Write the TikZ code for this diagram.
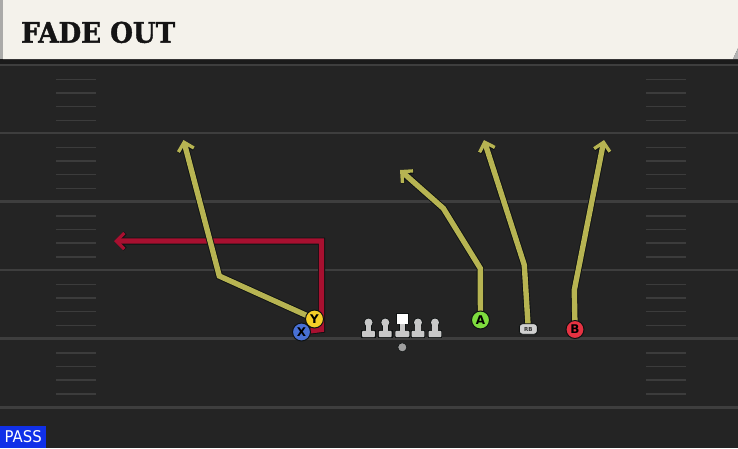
\documentclass[tikz,border=0pt]{standalone}
\usepackage{fontspec}
\usetikzlibrary{arrows.meta}
\newfontfamily\titlefont{DejaVu Serif}[BoldFeatures={FakeBold=1.5}]
\newfontfamily\labelfont{DejaVu Sans}
\definecolor{fieldbg}{RGB}{36,36,36}
\definecolor{majorc}{RGB}{62,62,62}
\definecolor{hashc}{RGB}{60,60,60}
\definecolor{banddark}{RGB}{27,27,27}
\definecolor{cream}{RGB}{244,242,235}
\definecolor{stripc}{RGB}{170,170,168}
\definecolor{routeY}{RGB}{183,180,82}
\definecolor{routeR}{RGB}{168,16,48}
\definecolor{outl}{RGB}{14,18,18}
\definecolor{xblue}{RGB}{72,112,212}
\definecolor{yyellow}{RGB}{246,206,40}
\definecolor{agreen}{RGB}{126,220,62}
\definecolor{bred}{RGB}{230,50,66}
\definecolor{lmgray}{RGB}{200,200,200}
\definecolor{passblue}{RGB}{16,48,232}
\pgfdeclarelayer{field}
\pgfdeclarelayer{routes}
\pgfsetlayers{field,routes,main}
\tikzset{
  majorline/.style={draw=majorc, line width=2.2pt},
  hashline/.style={draw=hashc, line width=1.8pt},
  routetip/.style={-{Straight Barb[length=8pt,width=16pt,line width=0pt 0.62]}},
  routeline/.style={draw=routeY, line width=5.4pt, line join=miter, routetip,
    preaction={draw=outl, line width=7.2pt}},
  redline/.style={draw=routeR, line width=5.2pt, line join=miter, routetip,
    preaction={draw=outl, line width=7pt}},
  player/.style={circle, draw=outl, line width=1pt, minimum size=18pt,
    inner sep=0pt, font=\labelfont\bfseries\fontsize{12}{12}\selectfont, text=black},
  rbshape/.style={rounded corners=3pt, draw=outl, line width=0.9pt, fill=lmgray!85,
    minimum width=18pt, minimum height=10.5pt, inner sep=0pt,
    font=\labelfont\bfseries\fontsize{5.5}{5.5}\selectfont, text=black!80},
  ballshape/.style={circle, fill=gray!75, draw=outl, line width=0.6pt,
    minimum size=9pt, inner sep=0pt},
  lineman/.pic={
    \fill[outl] (-7.3,7.3) rectangle (7.3,15.5);
    \fill[outl] (-3.4,0) rectangle (3.4,8);
    \fill[outl] (0,0) circle (4.8pt);
    \fill[lmgray] (-6.4,8.3) [rounded corners=1pt] rectangle (6.4,14.7);
    \fill[lmgray] (-2.6,0) rectangle (2.6,9);
    \fill[lmgray] (0,0) circle (4pt);
  },
  centerman/.pic={
    \fill[outl] (-7.8,7.3) rectangle (7.8,15.3);
    \fill[outl] (-3.4,0) rectangle (3.4,8);
    \fill[outl] (-6.3,-9.8) rectangle (6.3,1.8);
    \fill[lmgray] (-7,8.3) [rounded corners=1pt] rectangle (7,14.5);
    \fill[lmgray] (-2.6,0) rectangle (2.6,9);
    \fill[white] (-5.5,-9) rectangle (5.5,1);
  }
}
\begin{document}
\begin{tikzpicture}[x=1pt,y=-1pt]
\useasboundingbox (0,0) rectangle (738,448);
\begin{pgfonlayer}{field}
\fill[fieldbg] (0,0) rectangle (738,448);
\fill[banddark] (0,59) rectangle (738,65);
\fill[cream] (3,0) -- (738,0) -- (738,48) -- (733,59) -- (3,59) -- cycle;
\fill[stripc] (0,0) rectangle (3,59);
\fill[gray!60] (733,59) -- (738,48) -- (738,59) -- cycle;
\foreach \yy in {65,133,201.5,270,338.5,407.5}
  \draw[majorline] (0,\yy) -- (738,\yy);
\foreach \yy in {65,133,201.5,270,338.5}
  \foreach \dd in {14.5,28,41.5,55.5} {
    \draw[hashline] (56,{\yy+\dd}) -- (96,{\yy+\dd});
    \draw[hashline] (646,{\yy+\dd}) -- (686,{\yy+\dd});
  }
\end{pgfonlayer}

\node[anchor=base west, inner sep=0pt, text=black!92] (title) at (21,42.7)
  {\resizebox{154pt}{21pt}{\titlefont\bfseries FADE OUT}};

% offensive line and ball
\pic (L1) at (368.5,322.5) {lineman};
\pic (L2) at (385.3,322.5) {lineman};
\pic (C) at (402.3,322.5) {centerman};
\pic (L4) at (418,322.5) {lineman};
\pic (L5) at (435,322.5) {lineman};
\node[ballshape] (ball) at (402.3,347.3) {};

% skill players
\node[player, fill=xblue] (X) at (301.5,332) {X};
\node[player, fill=yyellow] (Y) at (314.5,319) {Y};
\node[player, fill=agreen] (A) at (480.5,320) {A};
\node[rbshape] (RB) at (528.3,329) {RB};
\node[player, fill=bred] (B) at (575,329.5) {B};

% route points
\coordinate (y1) at (219.3,276);
\coordinate (y2) at (183.5,140);
\coordinate (r1) at (321.5,329.5);
\coordinate (r2) at (321.5,241);
\coordinate (r3) at (114,241);
\coordinate (a1) at (480.3,268.3);
\coordinate (a2) at (443.3,208.3);
\coordinate (a3) at (400,170);
\coordinate (rb1) at (524.3,265);
\coordinate (rb2) at (484,140);
\coordinate (b1) at (574.3,290);
\coordinate (b2) at (604,140);

\begin{pgfonlayer}{routes}
\draw[redline] (X.center) -- (r1) -- (r2) -- (r3);
\draw[routeline] (Y.center) -- (y1) -- (y2);
\draw[routeline] (A.center) -- (a1) -- (a2) -- (a3);
\draw[routeline] (RB.center) -- (rb1) -- (rb2);
\draw[routeline] (B.center) -- (b1) -- (b2);
\end{pgfonlayer}

\node[anchor=south west, fill=passblue, minimum width=46pt, minimum height=21.5pt,
  inner sep=0pt, text=white] (pass) at (0,448)
  {\resizebox{37pt}{12pt}{\labelfont PASS}};
\end{tikzpicture}
\end{document}
